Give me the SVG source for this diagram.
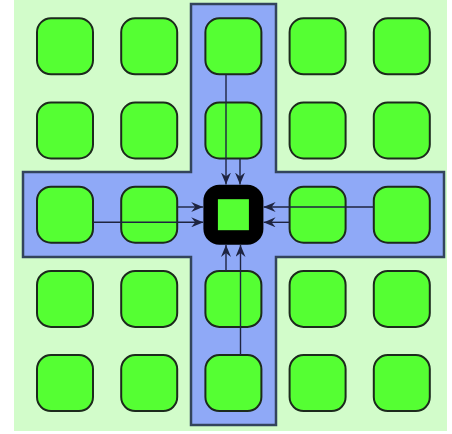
<svg xmlns="http://www.w3.org/2000/svg" width="452" height="434" viewBox="0 0 452 434">
<defs>
<style>
.n{fill:#55ff33;stroke:#1c2a1c;stroke-width:2}
.c{stroke:#1e2440;stroke-width:1.4;fill:none;marker-end:url(#ah)}
</style>
<marker id="ah" viewBox="0 0 12 10" refX="12" refY="5" markerWidth="12" markerHeight="10" markerUnits="userSpaceOnUse" orient="auto">
<path d="M0,0 L12,5 L0,10 L4,5 Z" fill="#1e2440"/>
</marker>
</defs>
<rect x="0" y="0" width="452" height="434" fill="#ffffff"/>
<rect x="14" y="0" width="433" height="431" fill="#d2fcca"/>
<polygon id="cross" points="191,4 276,4 276,172 444,172 444,257 276,257 276,425 191,425 191,257 23,257 23,172 191,172" fill="#8fa9f7" stroke="#33445c" stroke-width="2.5"/>
<g id="n11"><rect class="n" x="37" y="18.3" width="56" height="56" rx="14"/></g>
<g id="n12"><rect class="n" x="121.2" y="18.3" width="56" height="56" rx="14"/></g>
<g id="n13"><rect class="n" x="205.4" y="18.3" width="56" height="56" rx="14"/></g>
<g id="n14"><rect class="n" x="289.6" y="18.3" width="56" height="56" rx="14"/></g>
<g id="n15"><rect class="n" x="373.8" y="18.3" width="56" height="56" rx="14"/></g>
<g id="n21"><rect class="n" x="37" y="102.5" width="56" height="56" rx="14"/></g>
<g id="n22"><rect class="n" x="121.2" y="102.5" width="56" height="56" rx="14"/></g>
<g id="n23"><rect class="n" x="205.4" y="102.5" width="56" height="56" rx="14"/></g>
<g id="n24"><rect class="n" x="289.6" y="102.5" width="56" height="56" rx="14"/></g>
<g id="n25"><rect class="n" x="373.8" y="102.5" width="56" height="56" rx="14"/></g>
<g id="n31"><rect class="n" x="37" y="186.7" width="56" height="56" rx="14"/></g>
<g id="n32"><rect class="n" x="121.2" y="186.7" width="56" height="56" rx="14"/></g>
<g id="n33"><rect x="203.4" y="184.7" width="60" height="60" rx="16" fill="#000"/><rect x="217.9" y="199.2" width="31" height="31" fill="#55ff33"/></g>
<g id="n34"><rect class="n" x="289.6" y="186.7" width="56" height="56" rx="14"/></g>
<g id="n35"><rect class="n" x="373.8" y="186.7" width="56" height="56" rx="14"/></g>
<g id="n41"><rect class="n" x="37" y="270.9" width="56" height="56" rx="14"/></g>
<g id="n42"><rect class="n" x="121.2" y="270.9" width="56" height="56" rx="14"/></g>
<g id="n43"><rect class="n" x="205.4" y="270.9" width="56" height="56" rx="14"/></g>
<g id="n44"><rect class="n" x="289.6" y="270.9" width="56" height="56" rx="14"/></g>
<g id="n45"><rect class="n" x="373.8" y="270.9" width="56" height="56" rx="14"/></g>
<g id="n51"><rect class="n" x="37" y="355.1" width="56" height="56" rx="14"/></g>
<g id="n52"><rect class="n" x="121.2" y="355.1" width="56" height="56" rx="14"/></g>
<g id="n53"><rect class="n" x="205.4" y="355.1" width="56" height="56" rx="14"/></g>
<g id="n54"><rect class="n" x="289.6" y="355.1" width="56" height="56" rx="14"/></g>
<g id="n55"><rect class="n" x="373.8" y="355.1" width="56" height="56" rx="14"/></g>
<g id="connectors">
<line class="c" x1="226" y1="74.3" x2="226" y2="184.5"/>
<line class="c" x1="240" y1="158.5" x2="240" y2="184.5"/>
<line class="c" x1="93" y1="222.3" x2="203.2" y2="222.3"/>
<line class="c" x1="177.2" y1="207" x2="203.2" y2="207"/>
<line class="c" x1="373.8" y1="207" x2="263.6" y2="207"/>
<line class="c" x1="289.6" y1="222.3" x2="263.6" y2="222.3"/>
<line class="c" x1="226" y1="270.9" x2="226" y2="244.9"/>
<line class="c" x1="240.5" y1="355.1" x2="240.5" y2="244.9"/>
</g>
</svg>
